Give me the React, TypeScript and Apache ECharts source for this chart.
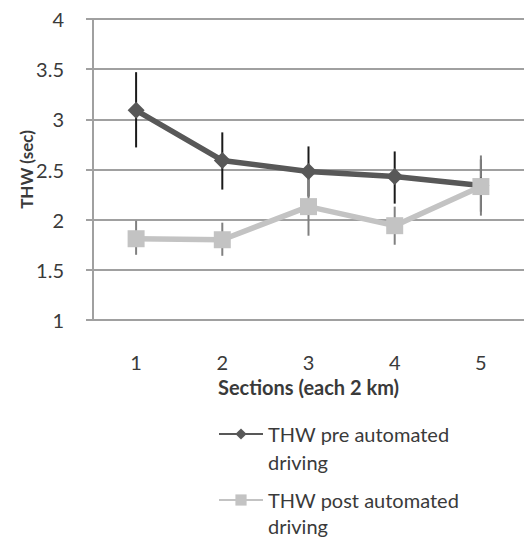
import React, { useEffect, useRef } from "react";
import * as echarts from "echarts";

const categories = ["1", "2", "3", "4", "5"];
const preName = "THW pre automated driving";
const postName = "THW post automated driving";
const preValues = [3.09, 2.59, 2.48, 2.43, 2.34];
const preLow = [2.72, 2.3, 2.23, 2.16, 2.08];
const preHigh = [3.47, 2.87, 2.73, 2.68, 2.6];
const postValues = [1.81, 1.8, 2.13, 1.94, 2.33];
const postLow = [1.65, 1.64, 1.84, 1.75, 2.04];
const postHigh = [1.99, 1.97, 2.42, 2.13, 2.64];

const FONT = "Lato, 'Open Sans', sans-serif";
const TXT = "#3a3a3a";

export default function App() {
  const ref = useRef<HTMLDivElement>(null);
  useEffect(() => {
    if (!ref.current) return;
    const chart = echarts.init(ref.current, null, { renderer: "svg" });
    const errData = (lo: number[], hi: number[]) => lo.map((l, i) => [i, l, hi[i]]);
    const errSeries = (name: string, lo: number[], hi: number[], color: string) => ({
      type: "custom",
      name,
      z: 1,
      silent: true,
      data: errData(lo, hi),
      encode: { x: 0, y: [1, 2] },
      renderItem: (params: any, api: any) => {
        const x = api.value(0);
        const p1 = api.coord([x, api.value(1)]);
        const p2 = api.coord([x, api.value(2)]);
        return {
          type: "line",
          shape: { x1: p1[0], y1: p1[1], x2: p2[0], y2: p2[1] },
          style: { stroke: color, lineWidth: 2 },
        };
      },
    });
    const legendText = (lh: number) => ({
      fontFamily: FONT,
      fontSize: 20,
      color: TXT,
      lineHeight: lh,
    });
    const fmt = (name: string) => "\n" + name.replace(" driving", "\ndriving");
    chart.setOption({
      animation: false,
      backgroundColor: "#fff",
      textStyle: { fontFamily: FONT },
      grid: { left: 93, top: 19, width: 434, height: 301 },
      legend: [
        {
          orient: "vertical",
          left: 218,
          top: 392,
          padding: 0,
          itemWidth: 44,
          itemHeight: 14,
          data: [preName],
          formatter: fmt,
          textStyle: legendText(28),
        },
        {
          orient: "vertical",
          left: 218,
          top: 461,
          padding: 0,
          itemWidth: 44,
          itemHeight: 14,
          data: [postName],
          formatter: fmt,
          textStyle: legendText(26),
        },
      ],
      xAxis: {
        type: "category",
        data: categories,
        boundaryGap: true,
        axisLine: { show: true, lineStyle: { color: "#a0a0a0", width: 2 } },
        axisTick: { show: false },
        axisLabel: { fontSize: 20, color: TXT, margin: 32, fontFamily: FONT },
        name: "Sections (each 2 km)",
        nameLocation: "middle",
        nameGap: 57,
        nameMoveOverlap: false,
        nameTextStyle: { fontSize: 20, fontWeight: "bold", color: TXT, fontFamily: FONT },
      },
      yAxis: {
        type: "value",
        min: 1,
        max: 4,
        interval: 0.5,
        axisLine: { show: true, lineStyle: { color: "#a0a0a0", width: 2 } },
        axisTick: { show: true, length: 7, lineStyle: { color: "#a0a0a0", width: 2 } },
        splitLine: { show: true, lineStyle: { color: "#a0a0a0", width: 2 } },
        axisLabel: { fontSize: 20, color: TXT, margin: 29, fontFamily: FONT, padding: [6, 0, 0, 0] },
        name: "THW (sec)",
        nameLocation: "middle",
        nameGap: 58,
        nameMoveOverlap: false,
        nameRotate: 90,
        nameTextStyle: { fontSize: 17, fontWeight: "bold", color: TXT, fontFamily: FONT },
      },
      series: [
        errSeries("preErr", preLow, preHigh, "#1a1a1a"),
        errSeries("postErr", postLow, postHigh, "#808080"),
        {
          type: "line",
          name: preName,
          data: preValues,
          z: 3,
          symbol: "diamond",
          symbolSize: 17,
          lineStyle: { color: "#585858", width: 5.5 },
          itemStyle: { color: "#585858" },
        },
        {
          type: "line",
          name: postName,
          data: postValues,
          z: 4,
          symbol: "rect",
          symbolSize: 17,
          lineStyle: { color: "#c3c3c3", width: 5.5 },
          itemStyle: { color: "#c3c3c3" },
        },
      ],
    });
    return () => chart.dispose();
  }, []);
  return <div ref={ref} style={{ width: 524, height: 538, position: "absolute", left: 0, top: 0 }} />;
}
